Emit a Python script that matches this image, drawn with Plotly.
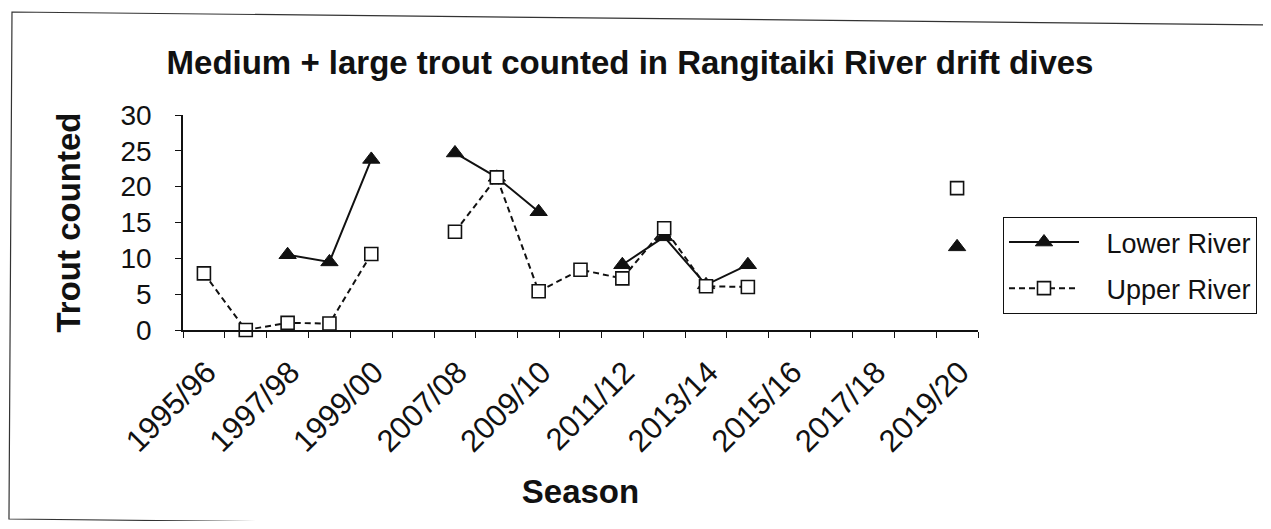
import plotly.graph_objects as go

seasons = ["1995/96", "1996/97", "1997/98", "1998/99", "1999/00", "2006/07",
           "2007/08", "2008/09", "2009/10", "2010/11", "2011/12", "2012/13",
           "2013/14", "2014/15", "2015/16", "2016/17", "2017/18", "2018/19", "2019/20"]
tick_labels = ["1995/96", "", "1997/98", "", "1999/00", "", "2007/08", "", "2009/10", "",
               "2011/12", "", "2013/14", "", "2015/16", "", "2017/18", "", "2019/20"]
lower_river = [None, None, 10.5, 9.5, 23.8, None, 24.7, 21.3, 16.5, None,
               9.1, 13.0, 6.3, 9.1, None, None, None, None, 11.6]
upper_river = [7.9, 0.0, 1.0, 0.9, 10.6, None, 13.7, 21.3, 5.4, 8.4,
               7.2, 14.2, 6.1, 6.0, None, None, None, None, 19.8]

OFF = 8  # page body margin
W, H = 1271 - 2 * OFF, 529 - 2 * OFF
# plot area in screen pixels
L, R, T, B = 183, 978, 115, 330
FONT = "Liberation Sans, Arial, sans-serif"
NB = "\u00a0"


def px(x):
    return (x - L) / (R - L)


def py(y):
    return (B - y) / (B - T)


fig = go.Figure()
fig.add_trace(go.Scatter(
    x=seasons, y=lower_river, name=NB * 3 + "Lower River", mode="lines+markers",
    line=dict(color="#111", width=2),
    marker=dict(symbol="triangle-up", size=15, color="#111", line=dict(color="#111", width=1)),
    cliponaxis=False, legendgroup="a"))
fig.add_trace(go.Scatter(
    x=seasons, y=upper_river, name=NB * 3 + "Upper River", mode="lines+markers",
    line=dict(color="#111", width=2, dash="6px,4px"),
    marker=dict(symbol="square", size=13, color="white", line=dict(color="#111", width=1.6)),
    cliponaxis=False, legendgroup="b"))

border = [(12, 12), (1282, 25), (1278, 532), (9, 519)]
path = "M " + " L ".join(f"{px(a):.4f},{py(b):.4f}" for a, b in border) + " Z"

fig.update_layout(
    width=W, height=H,
    margin=dict(l=L - OFF, r=W - (R - OFF), t=T - OFF, b=H - (B - OFF), autoexpand=False),
    paper_bgcolor="white", plot_bgcolor="white",
    font=dict(family=FONT, color="#111"),
    title=dict(text="Medium + large trout counted in Rangitaiki River drift dives",
               font=dict(size=33, weight="bold", family=FONT, color="#111"),
               x=(630 - OFF) / W, xanchor="center", xref="container",
               y=1 - (62 - OFF) / H, yanchor="middle", yref="container"),
    xaxis=dict(type="category", categoryorder="array", categoryarray=seasons,
               range=[-0.5, len(seasons) - 0.5],
               tickmode="array", tickvals=seasons, ticktext=tick_labels,
               tickson="boundaries", ticks="outside", ticklen=6, tickwidth=1.2, tickcolor="#111",
               tickangle=-45, tickfont=dict(size=31, family=FONT, color="#111"),
               ticklabelstandoff=10, ticklabelshift=3,
               showline=True, linecolor="#111", linewidth=1.5, showgrid=False, zeroline=False,
               title=dict(text="Season", font=dict(size=33, weight="bold", family=FONT, color="#111"),
                          standoff=22)),
    yaxis=dict(range=[0, 30], tickmode="linear", tick0=0, dtick=5,
               ticks="outside", ticklen=6, tickwidth=1.2, tickcolor="#111",
               tickfont=dict(size=28, family=FONT, color="#111"), ticklabelstandoff=18,
               showline=True, linecolor="#111", linewidth=1.5, showgrid=False, zeroline=False,
               title=dict(text="Trout counted", font=dict(size=33, weight="bold", family=FONT, color="#111"),
                          standoff=30)),
    legend=dict(x=px(1003), y=py(217), xanchor="left", yanchor="top",
                bordercolor="#111", borderwidth=1, bgcolor="white",
                font=dict(size=27, family=FONT, color="#111"),
                itemwidth=70, tracegroupgap=8),
    shapes=[dict(type="path", xref="paper", yref="paper", path=path,
                 line=dict(color="#333", width=1.2), fillcolor="rgba(0,0,0,0)", layer="below")],
)

fig.write_html("out.html")
